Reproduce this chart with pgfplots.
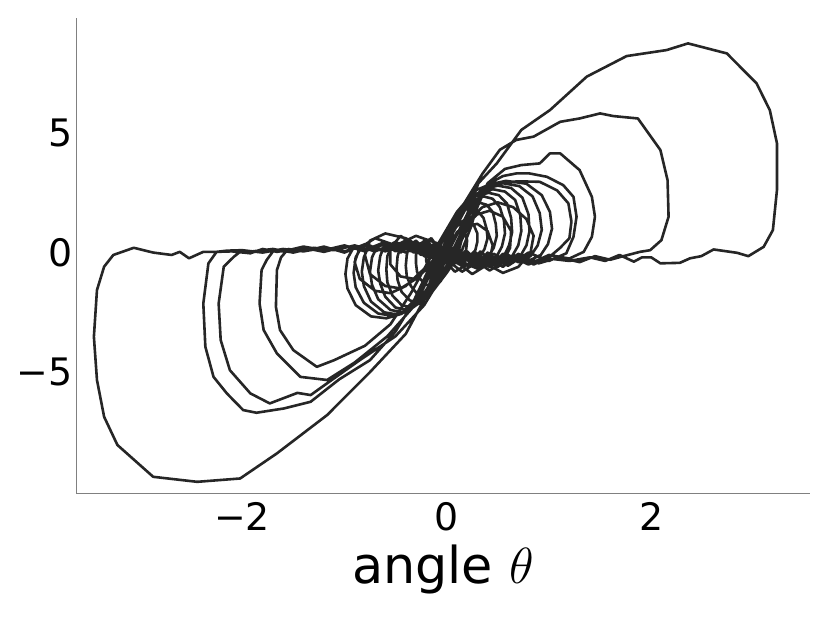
\documentclass[border=0pt]{standalone}
\usepackage{fix-cm}
\usepackage{fontspec}
\setmainfont{DejaVu Sans}
\usepackage{pgfplots}
\pgfplotsset{compat=1.18}

\definecolor{curve}{RGB}{38,38,38}
\definecolor{spine}{RGB}{128,128,128}

\begin{document}
\begin{tikzpicture}
\begin{axis}[
    scale only axis,
    width=734bp, height=475bp,
    xmin=-3.625, xmax=3.553,
    ymin=-10.07, ymax=9.80,
    axis x line*=bottom, axis y line*=left,
    axis line style={spine, line width=0.8bp},
    major tick length=0pt,
    xtick={-2,0,2}, xticklabels={−2,0,2},
    ytick={-5,0,5}, yticklabels={−5,0,5},
    ticklabel style={font=\fontsize{38}{40}\selectfont, inner sep=0pt},
    xticklabel style={anchor=north, yshift=-8.5bp},
    yticklabel style={anchor=east, xshift=-3.5bp},
    xlabel={angle $\theta$},
    xlabel style={font=\fontsize{51}{54}\selectfont, at={(axis description cs:0.5,0)}, anchor=base, yshift=-90bp},
]
\addplot[curve, line width=2.6bp, line join=round, no markers] coordinates {
% loop 1
(0.0,0.1) (-0.2,0.3) (-0.4,0.15) (-0.6,0.35) (-0.8,0.1) (-1.0,0.25) (-1.2,0.03) (-1.4,0.2)
(-1.66,0.03) (-1.8,0.15) (-1.92,-0.03) (-2.1,0.05) (-2.25,0.03) (-2.38,0.03) (-2.52,-0.24)
(-2.61,0.03) (-2.69,-0.10) (-2.87,0.0) (-3.06,0.2) (-3.26,-0.10) (-3.35,-0.59) (-3.42,-1.57)
(-3.45,-3.52) (-3.42,-5.33) (-3.35,-6.87) (-3.22,-8.05) (-2.87,-9.38) (-2.44,-9.59) (-2.02,-9.45)
(-1.66,-8.40) (-1.17,-6.80) (-0.75,-5.0) (-0.4,-3.4) (-0.2,-1.8) (0.0,-0.1) (0.2,1.6) (0.31,2.9)
(0.49,3.73) (0.73,5.13) (1.01,5.96) (1.37,7.36) (1.76,8.22) (2.15,8.47) (2.36,8.75) (2.74,8.33)
(3.03,7.08) (3.16,5.96) (3.23,4.57) (3.23,2.62) (3.19,0.94) (3.10,0.24) (2.95,-0.15) (2.84,-0.01)
(2.61,0.13) (2.49,-0.15) (2.38,-0.24) (2.28,-0.43) (2.09,-0.45) (2.00,-0.2) (1.91,-0.2) (1.83,-0.38)
(1.69,-0.1) (1.55,-0.35) (1.4,-0.2) (1.2,-0.35) (1.0,-0.25) (0.8,-0.4) (0.6,-0.2) (0.4,-0.45)
(0.2,-0.1) (0.0,0.25) (-0.2,-0.05) (-0.4,0.35) (-0.6,0.1) (-0.8,0.3) (-1.0,0.05) (-1.2,0.2)
(-1.4,0.05) (-1.6,0.15) (-1.8,0.0) (-2.0,0.1) (-2.15,0.08)
% loop 2
(-2.25,0.03) (-2.33,-0.45) (-2.38,-2.13) (-2.36,-3.94) (-2.28,-5.20) (-2.15,-5.89) (-1.99,-6.59)
(-1.86,-6.70) (-1.59,-6.52) (-1.33,-6.24) (-1.05,-5.3) (-0.75,-4.5) (-0.5,-3.3) (-0.3,-1.9)
(-0.08,-0.2) (0.12,1.7) (0.35,3.3) (0.52,4.3) (0.68,4.71) (0.85,4.85) (1.11,5.47) (1.30,5.61)
(1.50,5.82) (1.63,5.71) (1.87,5.61) (2.09,4.29) (2.16,3.03) (2.17,1.50) (2.10,0.52) (1.99,0.10)
(1.89,0.03) (1.71,-0.17) (1.6,-0.3) (1.45,-0.15) (1.3,-0.4) (1.1,-0.2) (0.9,-0.45) (0.7,-0.1)
(0.5,-0.5) (0.3,-0.1) (0.1,-0.4) (-0.1,0.4) (-0.3,0.0) (-0.5,0.4) (-0.7,0.05) (-0.9,0.3)
(-1.1,0.1) (-1.3,0.2) (-1.5,0.0) (-1.7,0.15) (-1.9,0.05)
% loop 3
(-2.0,0.1) (-2.08,-0.17) (-2.18,-0.59) (-2.23,-2.13) (-2.21,-3.66) (-2.12,-4.92) (-1.92,-5.89)
(-1.73,-6.31) (-1.46,-5.87) (-1.33,-5.96) (-1.17,-5.47) (-0.85,-4.5) (-0.5,-3.5) (-0.22,-2.2)
(0.05,-0.3) (0.25,1.4) (0.4,2.9) (0.57,3.5) (0.73,3.66) (0.91,3.73) (1.01,4.15) (1.11,4.15)
(1.30,3.45) (1.42,2.33) (1.45,1.50) (1.42,0.66) (1.34,0.03) (1.2,-0.25) (1.0,-0.1) (0.8,-0.5)
(0.6,-0.1) (0.4,-0.55) (0.2,-0.05) (0.0,-0.35) (-0.2,0.45) (-0.4,0.0) (-0.6,0.4) (-0.8,0.05)
(-1.0,0.3) (-1.2,0.1) (-1.4,0.25) (-1.6,0.05)
% loop 4
(-1.69,0.1) (-1.76,-0.31) (-1.81,-0.73) (-1.83,-2.13) (-1.79,-3.24) (-1.66,-4.22) (-1.43,-5.20)
(-1.17,-5.33) (-0.9,-4.6) (-0.58,-3.5) (-0.27,-2.0) (0.05,0.0) (0.25,1.8) (0.42,2.9) (0.55,3.2)
(0.68,3.31) (0.81,3.31) (0.98,3.17) (1.14,2.82) (1.24,2.33) (1.27,1.5) (1.24,0.66) (1.17,-0.03)
(1.0,-0.35) (0.8,0.0) (0.6,-0.55) (0.4,-0.1) (0.2,-0.5) (0.0,0.2) (-0.2,-0.2) (-0.4,0.45)
(-0.6,0.05) (-0.8,0.35) (-1.0,0.0) (-1.2,0.25) (-1.4,0.05)
% loop 5
(-1.55,0.15) (-1.62,-0.2) (-1.66,-0.73) (-1.67,-2.27) (-1.63,-3.24) (-1.50,-4.08) (-1.27,-4.78)
(-1.1,-4.5) (-0.8,-3.9) (-0.55,-3.0) (-0.35,-1.7) (-0.12,0.1) (0.1,1.7) (0.28,2.6) (0.45,2.9)
(0.7,2.98) (0.91,2.96) (1.08,2.6) (1.19,2.06) (1.22,1.3) (1.2,0.6) (1.11,0.2) (1.0,-0.2)
(0.85,-0.5) (0.7,-0.05) (0.55,-0.6) (0.4,-0.15) (0.25,-0.5) (0.1,0.1) (-0.05,-0.3) (-0.2,0.5)
(-0.4,0.0) (-0.6,0.45) (-0.8,0.1)
% loop 6
(-0.91,0.22) (-0.97,-0.25) (-0.99,-0.9) (-0.97,-1.5) (-0.89,-2.2) (-0.74,-2.67) (-0.59,-2.75)
(-0.44,-2.56) (-0.32,-2.0) (-0.22,-1.1) (-0.1,0.0) (0.05,1.2) (0.25,2.3) (0.42,2.85) (0.58,3.0)
(0.78,2.88) (0.93,2.4) (1.01,1.7) (1.03,1.0) (0.99,0.35) (0.92,-0.1) (0.8,-0.35) (0.65,-0.1)
(0.5,-0.6) (0.35,-0.2) (0.2,-0.55) (0.05,0.2) (-0.1,-0.3) (-0.2,0.55) (-0.35,0.05) (-0.5,0.45)
(-0.65,0.1) (-0.78,0.35)
% loop 7
(-0.83,0.25) (-0.89,-0.2) (-0.91,-0.85) (-0.89,-1.45) (-0.81,-2.1) (-0.67,-2.55) (-0.52,-2.65)
(-0.4,-2.45) (-0.22,-1.9) (-0.07,-1.0) (0.1,0.1) (0.22,1.2) (0.32,2.2) (0.42,2.75) (0.55,2.9)
(0.71,2.78) (0.84,2.35) (0.91,1.65) (0.93,0.95) (0.89,0.3) (0.82,-0.15) (0.7,-0.4) (0.55,-0.05)
(0.42,-0.6) (0.28,-0.1) (0.12,-0.5) (-0.02,0.3) (-0.15,-0.2) (-0.3,0.5) (-0.45,0.0) (-0.6,0.4)
(-0.72,0.15)
% loop 8
(-0.76,0.3) (-0.81,-0.2) (-0.83,-0.8) (-0.81,-1.4) (-0.74,-2.05) (-0.61,-2.5) (-0.47,-2.6)
(-0.36,-2.4) (-0.27,-1.85) (-0.16,-0.9) (-0.02,0.15) (0.1,1.15) (0.22,2.1) (0.36,2.65) (0.5,2.8)
(0.63,2.7) (0.74,2.3) (0.8,1.6) (0.81,0.9) (0.78,0.3) (0.72,-0.15) (0.6,-0.4) (0.46,-0.05)
(0.33,-0.65) (0.2,-0.15) (0.05,-0.45) (-0.08,0.4) (-0.22,-0.15) (-0.36,0.5) (-0.5,0.05) (-0.62,0.4)
% loop 9
(-0.68,0.25) (-0.73,-0.2) (-0.75,-0.8) (-0.73,-1.35) (-0.67,-1.95) (-0.55,-2.4) (-0.43,-2.5)
(-0.33,-2.3) (-0.17,-1.8) (0.0,-0.85) (0.15,0.1) (0.24,1.1) (0.3,2.0) (0.36,2.5) (0.45,2.65)
(0.57,2.55) (0.67,2.2) (0.72,1.55) (0.73,0.9) (0.7,0.3) (0.64,-0.15) (0.52,-0.45) (0.4,0.0)
(0.28,-0.6) (0.15,-0.1) (0.02,-0.5) (-0.1,0.35) (-0.25,-0.1) (-0.4,0.45) (-0.55,0.1)
% loop 10
(-0.61,0.3) (-0.65,-0.15) (-0.67,-0.75) (-0.65,-1.3) (-0.6,-1.85) (-0.5,-2.3) (-0.39,-2.4)
(-0.3,-2.2) (-0.25,-1.7) (-0.18,-0.8) (-0.09,0.15) (0.05,1.05) (0.17,1.9) (0.28,2.35) (0.41,2.5)
(0.51,2.4) (0.59,2.05) (0.63,1.45) (0.64,0.85) (0.61,0.3) (0.56,-0.15) (0.45,-0.4) (0.33,0.05)
(0.2,-0.55) (0.08,-0.05) (-0.05,-0.4) (-0.18,0.45) (-0.32,0.0) (-0.47,0.4)
% loop 11
(-0.54,0.25) (-0.58,-0.15) (-0.59,-0.7) (-0.58,-1.25) (-0.53,-1.8) (-0.44,-2.2) (-0.34,-2.3)
(-0.26,-2.1) (-0.14,-1.6) (-0.02,-0.75) (0.08,0.1) (0.16,1.0) (0.22,1.8) (0.28,2.2) (0.36,2.35)
(0.45,2.25) (0.52,1.9) (0.56,1.35) (0.57,0.8) (0.54,0.25) (0.49,-0.15) (0.38,-0.4) (0.27,0.05)
(0.15,-0.5) (0.02,-0.1) (-0.1,-0.35) (-0.22,0.4) (-0.35,0.05) (-0.42,0.35)
% loop 12
(-0.45,0.25) (-0.48,-0.15) (-0.49,-0.65) (-0.48,-1.15) (-0.44,-1.65) (-0.36,-2.0) (-0.28,-2.1)
(-0.21,-1.9) (-0.18,-1.45) (-0.12,-0.7) (-0.05,0.1) (0.05,0.9) (0.14,1.6) (0.22,1.95) (0.31,2.1)
(0.39,2.0) (0.45,1.7) (0.48,1.2) (0.49,0.7) (0.46,0.2) (0.41,-0.15) (0.3,-0.35) (0.2,0.05)
(0.1,-0.45) (-0.02,-0.05) (-0.12,-0.3) (-0.25,0.4) (-0.38,0.05)
% loop 13
(-0.37,0.25) (-0.39,-0.1) (-0.40,-0.55) (-0.39,-1.0) (-0.35,-1.4) (-0.29,-1.72) (-0.22,-1.8)
(-0.17,-1.6) (-0.06,-1.2) (0.03,-0.6) (0.12,0.1) (0.16,0.75) (0.19,1.35) (0.22,1.68) (0.25,1.8)
(0.31,1.7) (0.36,1.45) (0.39,1.0) (0.40,0.6) (0.37,0.15) (0.33,-0.15) (0.22,-0.3) (0.12,0.0)
(0.02,-0.4) (-0.08,0.05) (-0.18,-0.2) (-0.28,0.35)
% loop 14
(-0.28,0.2) (-0.30,-0.1) (-0.30,-0.45) (-0.29,-0.8) (-0.26,-1.1) (-0.21,-1.33) (-0.16,-1.4)
(-0.12,-1.25) (-0.11,-0.9) (-0.07,-0.45) (-0.03,0.1) (0.03,0.6) (0.09,1.05) (0.15,1.3) (0.19,1.4)
(0.24,1.32) (0.27,1.1) (0.3,0.8) (0.3,0.45) (0.28,0.1) (0.24,-0.15) (0.15,-0.25) (0.05,0.05)
(-0.05,-0.3) (-0.15,0.15) (-0.22,0.3)
% loop 15
(-0.2,0.0) (-0.2,-0.35) (-0.18,-0.7) (-0.14,-0.95) (-0.1,-1.0) (-0.06,-0.75) (-0.02,-0.35)
(0.02,0.1) (0.06,0.5) (0.1,0.85) (0.14,1.0) (0.18,0.85) (0.2,0.5) (0.19,0.1) (0.14,-0.15)
(0.05,-0.1) (-0.1,0.4)
% loop 16
(-0.3,0.7) (-0.5,0.3) (-0.7,0.6) (-0.85,0.2) (-0.9,-0.4) (-0.85,-1.1) (-0.7,-1.6) (-0.55,-1.7)
(-0.4,-1.4) (-0.25,-0.8) (-0.1,-0.2) (0.05,0.5) (0.2,1.3) (0.35,1.9) (0.5,2.1) (0.65,1.9)
(0.78,1.4) (0.85,0.7) (0.82,0.0) (0.7,-0.6) (0.55,-0.85) (0.4,-0.5) (0.25,-0.9) (0.1,-0.4)
(-0.05,-0.7) (-0.2,0.1) (-0.4,0.6)
% loop 17
(-0.6,0.8) (-0.75,0.5) (-0.8,-0.1) (-0.75,-0.9) (-0.6,-1.4) (-0.45,-1.5) (-0.3,-1.1) (-0.15,-0.5)
(0.0,0.3) (0.15,1.0) (0.3,1.6) (0.42,1.75) (0.55,1.5) (0.63,0.9) (0.62,0.2) (0.55,-0.4)
(0.42,-0.75) (0.3,-0.4) (0.15,-0.8) (0.0,-0.3) (-0.15,0.6) (-0.3,0.2) (-0.45,0.7)
% loop 18
(-0.55,0.2) (-0.55,-0.5) (-0.45,-1.0) (-0.32,-1.1) (-0.2,-0.7) (-0.08,-0.1) (0.05,0.6) (0.18,1.1)
(0.3,1.2) (0.4,0.9) (0.45,0.3) (0.42,-0.3) (0.32,-0.7) (0.2,-0.5) (0.08,-0.8) (-0.05,-0.2) (0.0,0.1)
};
\end{axis}
\coordinate (bbsw) at ([shift={(-76bp,-129.7bp)}]current axis.south west);
\coordinate (bbne) at ([shift={(20bp,18.3bp)}]current axis.north east);
\path (bbsw) rectangle (bbne);
\end{tikzpicture}
\end{document}
